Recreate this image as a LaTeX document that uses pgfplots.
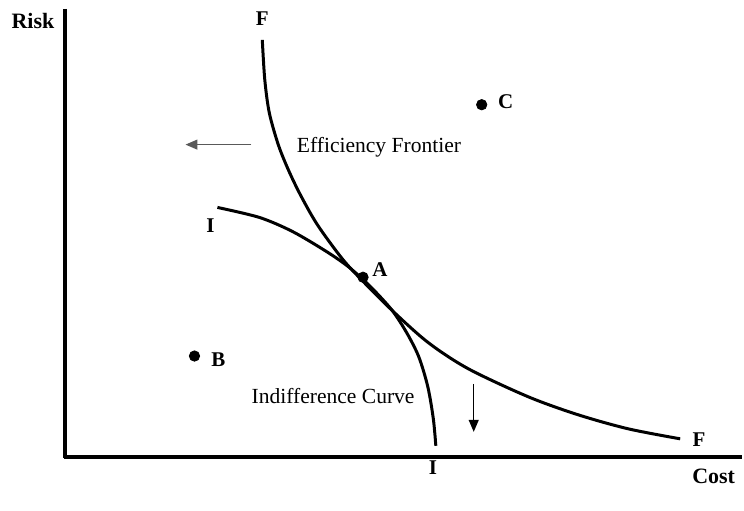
\documentclass[border=0pt]{standalone}
\usepackage{pgfplots}
\pgfplotsset{compat=1.18}
\usepackage{fontspec}
\setmainfont{Liberation Serif}
\usetikzlibrary{arrows.meta}
\begin{document}
\begin{tikzpicture}
\begin{axis}[
  width=372pt, height=256pt, scale only axis,
  xmin=0, xmax=744, ymin=0, ymax=512, y dir=reverse,
  hide axis, clip=false,
]
\path (axis cs:0,0) rectangle (axis cs:744,512);
% axes
\addplot[black, line width=2pt] coordinates {(65,9) (65,459)};
\addplot[black, line width=2pt] coordinates {(64,458) (744,458)};
% Efficiency frontier F
\addplot[black, line width=1.5pt, smooth] coordinates {
(263,40) (265.5,80) (270,113) (279,145) (289,170) (301,195) (318,225)
(342,258) (360,278) (395,313) (430,344) (470,370) (530,398) (580,416)
(630,430) (682,440)};
% Indifference curve I
\addplot[black, line width=1.5pt, smooth] coordinates {
(218,208) (260,218) (293,232) (327,252) (350,268) (372,288) (393,311)
(408,334) (420,358) (429,388) (434.5,420) (437,447)};
% points
\addplot[only marks, mark=*, mark size=2.6pt, black] coordinates {(364,278) (195,357) (483,105)};
% arrows
\addplot[gray!70!black, line width=0.6pt, -{Triangle[length=6pt,width=5pt]}] coordinates {(252,145) (186,145)};
\addplot[black, line width=0.6pt, -{Triangle[length=6pt,width=5pt]}] coordinates {(475,385) (475,433)};
% labels
\node[font=\bfseries\fontsize{11}{12}\selectfont] at (axis cs:33,21) {Risk};
\node[font=\bfseries\fontsize{11}{12}\selectfont, anchor=east] at (axis cs:744,478) {Cost};
\node[font=\bfseries\fontsize{10.5}{12}\selectfont] at (axis cs:263,19) {F};
\node[font=\bfseries\fontsize{10.5}{12}\selectfont] at (axis cs:701,441) {F};
\node[font=\bfseries\fontsize{10.5}{12}\selectfont] at (axis cs:211,226) {I};
\node[font=\bfseries\fontsize{10.5}{12}\selectfont] at (axis cs:434,469) {I};
\node[font=\bfseries\fontsize{10.5}{12}\selectfont] at (axis cs:381,270) {A};
\node[font=\bfseries\fontsize{10.5}{12}\selectfont] at (axis cs:219,361) {B};
\node[font=\bfseries\fontsize{10.5}{12}\selectfont] at (axis cs:507,102) {C};
\node[font=\fontsize{10.8}{12}\selectfont] at (axis cs:380,148) {Efficiency Frontier};
\node[font=\fontsize{10.8}{12}\selectfont] at (axis cs:334,397) {Indifference Curve};
\end{axis}
\end{tikzpicture}
\end{document}
